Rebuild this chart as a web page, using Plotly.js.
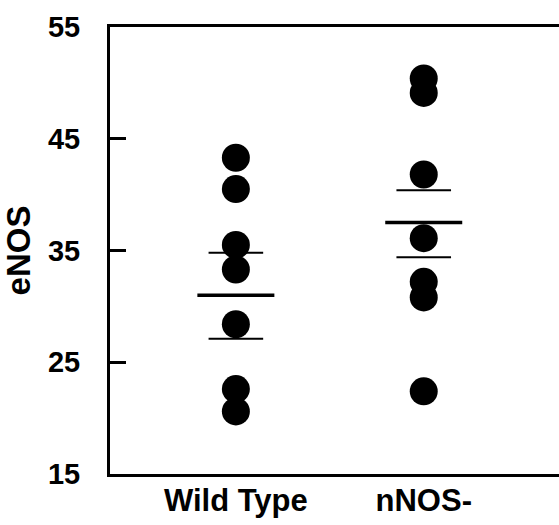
<!DOCTYPE html>
<html>
<head>
<meta charset="utf-8">
<script src="https://cdn.plot.ly/plotly-3.0.1.min.js"></script>
<style>html,body{margin:0;padding:0;background:#fff;}</style>
</head>
<body>
<div id="chart" style="width:559px;height:525px;"></div>
<script>
// Data
const groups = ["Wild Type", "nNOS-"];
const groupPos = [1, 2];
const wildTypeValues = [43.3, 40.5, 35.5, 33.3, 28.4, 22.6, 20.6];
const nnosValues = [50.4, 49.1, 41.8, 36.1, 32.2, 30.8, 22.4];
const groupMeans = [31.0, 37.5];
const groupUpper = [34.8, 40.4];
const groupLower = [27.1, 34.4];
const yTicks = [15, 25, 35, 45, 55];

const font = "Arial, 'Liberation Sans', Helvetica, sans-serif";

const traces = [
  {
    type: "scatter", mode: "markers",
    x: wildTypeValues.map(() => groupPos[0]), y: wildTypeValues,
    marker: {symbol: "circle", size: 28, color: "#000"},
    hoverinfo: "y", showlegend: false
  },
  {
    type: "scatter", mode: "markers",
    x: nnosValues.map(() => groupPos[1]), y: nnosValues,
    marker: {symbol: "circle", size: 28, color: "#000"},
    hoverinfo: "y", showlegend: false
  },
  {
    type: "scatter", mode: "markers",
    x: groupPos, y: groupMeans,
    marker: {symbol: "line-ew", size: 55, color: "#000", line: {color: "#000", width: 3.5}},
    showlegend: false
  },
  {
    type: "scatter", mode: "markers",
    x: groupPos.concat(groupPos), y: groupUpper.concat(groupLower),
    marker: {symbol: "line-ew", size: 39, color: "#000", line: {color: "#000", width: 2}},
    showlegend: false
  }
];

const layout = {
  width: 559, height: 525,
  margin: {l: 110, r: 0, t: 27, b: 51, pad: 0},
  paper_bgcolor: "#fff", plot_bgcolor: "#fff",
  showlegend: false,
  font: {family: font, color: "#000"},
  xaxis: {
    range: [0.33, 2.72],
    tickmode: "array", tickvals: groupPos, ticktext: groups,
    ticks: "", showgrid: false, zeroline: false,
    showline: true, mirror: true, linecolor: "#000", linewidth: 3,
    tickfont: {family: font, size: 31, color: "#000", weight: "bold"},
    ticklabelstandoff: -3
  },
  yaxis: {
    range: [15, 55],
    tickmode: "array", tickvals: yTicks,
    ticks: "inside", ticklen: 16, tickwidth: 3, tickcolor: "#000",
    showgrid: false, zeroline: false,
    showline: true, mirror: false, linecolor: "#000", linewidth: 3,
    tickfont: {family: font, size: 29, color: "#000", weight: "bold"},
    ticklabelstandoff: 21,
    title: {text: "eNOS", font: {family: font, size: 33, color: "#000", weight: "bold"}, standoff: 8}
  }
};

Plotly.newPlot("chart", traces, layout, {displayModeBar: false, staticPlot: true});
</script>
</body>
</html>
